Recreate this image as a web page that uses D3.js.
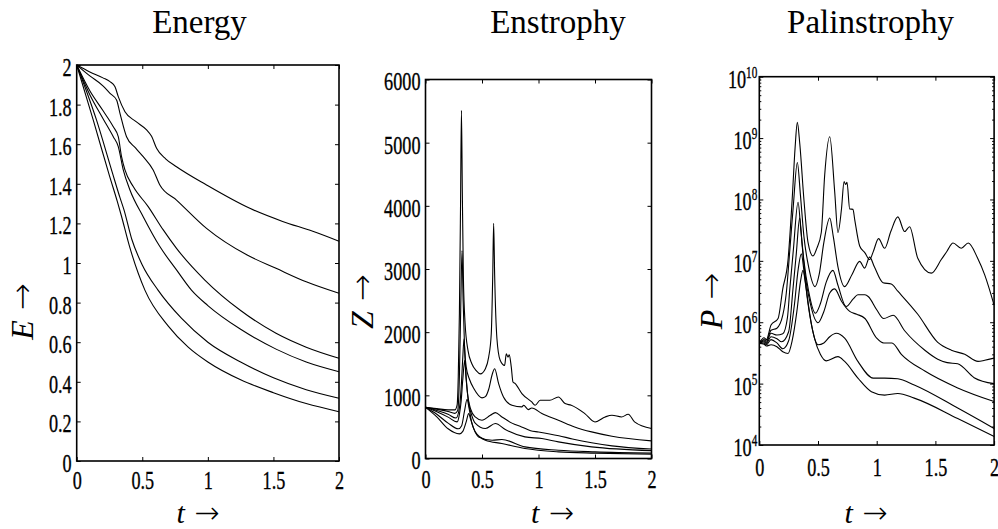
<!DOCTYPE html>
<meta charset="utf-8">
<script src="https://d3js.org/d3.v7.min.js"></script>
<style>
  body { margin: 0; background: #fff; }
  text { font-family: "Liberation Serif", "Times New Roman", serif; fill: #000; }
  .arrow { font-family: "DejaVu Sans", sans-serif; font-weight: 200; }
</style>
<div id="chart"></div>
<script>

// ---- data: [t, value] pairs ----
var timeTicks = [0, 0.5, 1, 1.5, 2];
var energyTicks = [0, 0.2, 0.4, 0.6, 0.8, 1, 1.2, 1.4, 1.6, 1.8, 2];
var enstrophyTicks = [0, 1000, 2000, 3000, 4000, 5000, 6000];
var palinTicks = [1e4, 1e5, 1e6, 1e7, 1e8, 1e9, 1e10];

var energyCurves = [
  [[0,2],[0.1,1.965],[0.2,1.935],[0.254,1.916],[0.292,1.89],[0.317,1.84],[0.368,1.764],[0.45,1.715],[0.533,1.672],[0.571,1.64],[0.609,1.579],[0.68,1.525],[0.761,1.486],[0.99,1.394],[1.32,1.276],[1.57,1.21],[1.8,1.16],[2,1.11]],
  [[0,2],[0.1,1.945],[0.2,1.895],[0.254,1.857],[0.304,1.823],[0.33,1.756],[0.38,1.638],[0.45,1.58],[0.507,1.537],[0.583,1.47],[0.634,1.394],[0.761,1.318],[0.99,1.175],[1.3,1.04],[1.52,0.973],[1.75,0.905],[2,0.847]],
  [[0,2],[0.1,1.87],[0.2,1.77],[0.279,1.688],[0.317,1.638],[0.342,1.537],[0.368,1.47],[0.431,1.386],[0.545,1.285],[0.66,1.167],[0.761,1.074],[0.977,0.914],[1.25,0.76],[1.52,0.645],[1.75,0.575],[2,0.519]],
  [[0,2],[0.1,1.85],[0.2,1.73],[0.279,1.638],[0.317,1.588],[0.355,1.47],[0.406,1.369],[0.507,1.234],[0.634,1.083],[0.761,0.965],[0.875,0.863],[1,0.785],[1.25,0.665],[1.52,0.565],[1.75,0.5],[2,0.451]],
  [[0,2],[0.152,1.72],[0.27,1.46],[0.33,1.33],[0.36,1.27],[0.42,1.12],[0.5,0.99],[0.62,0.863],[0.8,0.72],[1,0.6],[1.25,0.5],[1.5,0.42],[1.75,0.36],[2,0.317]],
  [[0,2],[0.127,1.72],[0.25,1.44],[0.31,1.31],[0.34,1.24],[0.4,1.09],[0.52,0.863],[0.7,0.68],[0.85,0.575],[1,0.5],[1.25,0.41],[1.5,0.345],[1.75,0.29],[2,0.249]]
];

var enstrophyCurves = [
  [[0,810],[0.1,790],[0.2,770],[0.26,770],[0.28,850],[0.29,1300],[0.3,2300],[0.31,4000],[0.318,5510],[0.326,4200],[0.335,2900],[0.35,2150],[0.376,1711],[0.41,1500],[0.45,1390],[0.485,1340],[0.53,1422],[0.559,1606],[0.582,1975],[0.595,2900],[0.603,3722],[0.612,2900],[0.632,1900],[0.66,1560],[0.7,1474],[0.715,1658],[0.73,1605],[0.741,1640],[0.759,1450],[0.774,1211],[0.794,1185],[0.853,1027],[0.94,895],[0.97,843],[1.015,921],[1.1,921],[1.176,974],[1.235,869],[1.29,843],[1.41,711],[1.5,579],[1.59,658],[1.65,685],[1.735,658],[1.794,700],[1.85,579],[2,474]],
  [[0,810],[0.1,780],[0.2,745],[0.26,715],[0.285,760],[0.3,1300],[0.312,2400],[0.323,3290],[0.333,2500],[0.345,1800],[0.36,1450],[0.39,1250],[0.43,1100],[0.5,960],[0.53,980],[0.56,1100],[0.59,1330],[0.612,1422],[0.647,1185],[0.69,974],[0.765,843],[0.853,817],[0.868,843],[0.91,774],[0.94,800],[1.03,711],[1.176,606],[1.32,500],[1.47,421],[1.65,353],[2,279]],
  [[0,810],[0.1,760],[0.2,700],[0.27,640],[0.3,800],[0.315,1100],[0.33,1600],[0.341,1896],[0.352,1500],[0.368,1100],[0.4,780],[0.44,658],[0.5,606],[0.574,685],[0.618,727],[0.676,658],[0.765,560],[0.85,500],[0.93,440],[1,420],[1.18,360],[1.3,310],[1.47,250],[1.65,200],[2,150]],
  [[0,810],[0.1,740],[0.2,655],[0.28,580],[0.3,700],[0.315,900],[0.33,1250],[0.347,1553],[0.36,1250],[0.38,900],[0.41,680],[0.44,560],[0.53,474],[0.618,553],[0.706,458],[0.88,342],[1.03,316],[1.176,263],[1.47,184],[2,125]],
  [[0,810],[0.1,700],[0.2,560],[0.29,470],[0.32,520],[0.345,750],[0.368,937],[0.385,800],[0.41,560],[0.44,420],[0.47,342],[0.59,290],[0.676,300],[0.88,184],[1.176,131],[1.5,105],[2,85]],
  [[0,810],[0.1,660],[0.2,470],[0.3,390],[0.33,430],[0.36,580],[0.382,711],[0.4,620],[0.44,421],[0.53,290],[0.676,237],[0.88,158],[1.176,105],[1.5,85],[2,68]]
];

var palinCurves = [
  [[0,4.6e5],[0.04,5.6e5],[0.06,5.2e5],[0.1,9e5],[0.16,1.15e6],[0.2,3.5e6],[0.244,1e7],[0.28,1e8],[0.305,7e8],[0.324,1.8e9],[0.345,8e8],[0.38,1e8],[0.415,2e7],[0.457,1.2e7],[0.49,1.6e7],[0.528,2.9e7],[0.557,2.5e8],[0.6,1.05e9],[0.642,1.35e8],[0.67,2.9e7],[0.7,7e7],[0.722,1.95e8],[0.735,1.75e8],[0.747,1.9e8],[0.77,7e7],[0.798,6.9e7],[0.812,4.8e7],[0.855,1.75e7],[0.9,1.35e7],[0.94,1.05e7],[0.97,1.4e7],[1.016,2.3e7],[1.068,1.6e7],[1.12,3e7],[1.18,5.2e7],[1.238,3e7],[1.28,3.6e7],[1.35,1.1e7],[1.465,6.3e6],[1.55,1.05e7],[1.6,1.45e7],[1.65,1.95e7],[1.72,1.6e7],[1.78,1.95e7],[1.86,1.1e7],[1.92,5.9e6],[2,1.9e6]],
  [[0,4.5e5],[0.04,5.2e5],[0.06,4.9e5],[0.1,7.4e5],[0.15,8e5],[0.2,1.3e6],[0.23,3e6],[0.26,1.5e7],[0.29,8e7],[0.324,4e8],[0.35,1.2e8],[0.38,2.5e7],[0.42,8e6],[0.475,3.8e6],[0.51,6e6],[0.55,2e7],[0.6,5e7],[0.63,2.5e7],[0.67,8e6],[0.727,3.8e6],[0.79,6e6],[0.855,9.8e6],[0.897,7.6e6],[0.94,1.15e7],[0.98,8e6],[1.054,4.4e6],[1.124,4.2e6],[1.18,3.2e6],[1.35,1.35e6],[1.52,4.7e5],[1.636,3.5e5],[1.75,3e5],[1.863,2.3e5],[1.92,2.4e5],[2,2.6e5]],
  [[0,4.5e5],[0.04,5e5],[0.06,4.7e5],[0.1,6.6e5],[0.15,6.2e5],[0.2,6.5e5],[0.24,1.2e6],[0.26,3.5e6],[0.29,1.5e7],[0.33,9e7],[0.355,3e7],[0.38,1e7],[0.42,3.2e6],[0.478,1.4e6],[0.52,2e6],[0.57,4.5e6],[0.627,7e6],[0.67,4e6],[0.74,1.8e6],[0.8,2.4e6],[0.84,2.8e6],[0.9,2.8e6],[0.93,2.6e6],[1,1.6e6],[1.06,1.15e6],[1.14,1.3e6],[1.24,7.2e5],[1.41,3.5e5],[1.52,2.5e5],[1.6,2.2e5],[1.69,2.1e5],[1.83,1.25e5],[2,1e5]],
  [[0,4.5e5],[0.04,4.8e5],[0.06,4.5e5],[0.1,5.8e5],[0.15,5.4e5],[0.19,4.8e5],[0.25,7e5],[0.287,3.5e6],[0.315,1.3e7],[0.344,5e7],[0.365,1.8e7],[0.39,6e6],[0.43,2.2e6],[0.5,9.8e5],[0.55,1.5e6],[0.6,3e6],[0.642,3.5e6],[0.7,2.2e6],[0.77,1.5e6],[0.83,1.35e6],[0.9,1.15e6],[1,5.5e5],[1.06,4.6e5],[1.13,4.6e5],[1.21,3e5],[1.41,1.6e5],[1.69,8.5e4],[2,5.1e4]],
  [[0,4.5e5],[0.04,4.6e5],[0.06,4.3e5],[0.1,5.2e5],[0.15,4.6e5],[0.2,3.7e5],[0.25,5e5],[0.3,2e6],[0.33,7e6],[0.358,1.3e7],[0.38,7e6],[0.41,2.5e6],[0.45,8e5],[0.5,4.3e5],[0.55,4.6e5],[0.6,5.8e5],[0.656,6.6e5],[0.727,5.5e5],[0.84,2.3e5],[0.97,1.23e5],[1.068,1.23e5],[1.18,1.2e5],[1.32,9.5e4],[1.69,4e4],[2,1.86e4]],
  [[0,4.5e5],[0.04,4.4e5],[0.06,4.1e5],[0.1,4.3e5],[0.15,4e5],[0.2,3.3e5],[0.245,3.1e5],[0.28,5e5],[0.32,1.5e6],[0.35,4.5e6],[0.372,7e6],[0.395,4e6],[0.415,2e6],[0.47,5.5e5],[0.52,3e5],[0.57,2.35e5],[0.67,2.75e5],[0.727,2.3e5],[0.84,1.23e5],[0.955,7.4e4],[1.068,6.5e4],[1.18,6.9e4],[1.32,5.8e4],[1.69,2.7e4],[2,1.38e4]]
];

// ---- layout ----
var svg = d3.select("#chart").append("svg")
    .attr("width", 998)
    .attr("height", 529);

var squeeze = 0.7;   // tick labels are narrow in the original

var panels = [
  { title: "Energy", titleX: 199.5, l: 76.7, r: 339, t: 65, b: 461,
    y: d3.scaleLinear().domain([0, 2]), ticks: energyTicks, curves: energyCurves,
    ylab: "E", ylabX: 33, ylabY: 311.5, tlabX: 198, xoff: 28, log: false },
  { title: "Enstrophy", titleX: 558, l: 425.5, r: 651.5, t: 79.5, b: 458.5,
    y: d3.scaleLinear().domain([0, 6000]), ticks: enstrophyTicks, curves: enstrophyCurves,
    ylab: "Z", ylabX: 373, ylabY: 301.5, tlabX: 552.5, xoff: 30, log: false },
  { title: "Palinstrophy", titleX: 870.5, l: 759.3, r: 994.1, t: 76.7, b: 445,
    y: d3.scaleLog().domain([1e4, 1e10]), ticks: palinTicks, curves: palinCurves,
    ylab: "P", ylabX: 722, ylabY: 301, tlabX: 866, xoff: 31, log: true }
];

panels.forEach(drawPanel);

function drawPanel(p) {
  var x = d3.scaleLinear().domain([0, 2]).range([p.l, p.r]);
  var y = p.y.range([p.b, p.t]);
  var g = svg.append("g");

  // curves
  var line = d3.line()
      .x(function(d) { return x(d[0]); })
      .y(function(d) { return y(d[1]); })
      .curve(d3.curveMonotoneX);

  g.selectAll("path.curve")
    .data(p.curves)
    .join("path")
      .attr("class", "curve")
      .attr("fill", "none")
      .attr("stroke", "#000")
      .attr("stroke-width", 1.1)
      .attr("d", line);

  // bottom axis with labels
  var xb = g.append("g")
      .attr("transform", "translate(0," + p.b + ")")
      .call(d3.axisBottom(x).tickValues(timeTicks).tickSize(-4).tickFormat(function(d) { return d; }));
  xb.selectAll("text")
      .attr("y", p.xoff).attr("dy", 0)
      .attr("font-size", 26)
      .attr("stroke", "#000").attr("stroke-width", 0.35)
      .attr("transform", "scale(" + squeeze + ",1)");

  // top and right mirror ticks
  g.append("g")
      .attr("transform", "translate(0," + p.t + ")")
      .call(d3.axisTop(x).tickValues(timeTicks).tickSize(-4).tickFormat(""));

  var yl = g.append("g")
      .attr("transform", "translate(" + p.l + ",0)")
      .call(d3.axisLeft(y).tickValues(p.ticks).tickSize(-4).tickFormat(p.log ? "" : function(d) { return d; }));
  g.append("g")
      .attr("transform", "translate(" + p.r + ",0)")
      .call(d3.axisRight(y).tickValues(p.ticks).tickSize(-4).tickFormat(""));

  if (p.log) {
    var minor = y.ticks().filter(function(v) { return p.ticks.indexOf(v) < 0; });
    g.append("g")
        .attr("transform", "translate(" + p.l + ",0)")
        .call(d3.axisLeft(y).tickValues(minor).tickSize(-2).tickFormat(""));
    g.append("g")
        .attr("transform", "translate(" + p.r + ",0)")
        .call(d3.axisRight(y).tickValues(minor).tickSize(-2).tickFormat(""));

    yl.selectAll(".tick text").each(function(d) {
      var t = d3.select(this)
          .attr("x", 0).attr("dy", "0.4em")
          .attr("font-size", 26)
          .attr("text-anchor", "end")
          .attr("stroke", "#000").attr("stroke-width", 0.35)
          .attr("transform", "translate(-2,0) scale(" + squeeze + ",1)");
      t.append("tspan").text("10");
      t.append("tspan").attr("font-size", 16).attr("dy", -10).text(Math.round(Math.log10(d)));
    });
  } else {
    yl.selectAll(".tick text")
        .attr("x", 0).attr("dy", "0.4em")
        .attr("font-size", 26)
        .attr("stroke", "#000").attr("stroke-width", 0.35)
        .attr("transform", "translate(-5,0) scale(" + squeeze + ",1)");
  }

  g.selectAll(".domain").remove();
  g.selectAll(".tick line").attr("stroke", "#000").attr("stroke-width", 1);

  // frame
  g.append("rect")
      .attr("x", p.l).attr("y", p.t)
      .attr("width", p.r - p.l).attr("height", p.b - p.t)
      .attr("fill", "none")
      .attr("stroke", "#000")
      .attr("stroke-width", 1.6);

  // title
  svg.append("text")
      .attr("x", p.titleX).attr("y", 33)
      .attr("text-anchor", "middle")
      .attr("font-size", 33)
      .attr("fill", "#111")
      .text(p.title);

  // x label "t ->"
  var tl = svg.append("text")
      .attr("x", p.tlabX).attr("y", 522.5)
      .attr("text-anchor", "middle")
      .attr("font-size", 30);
  tl.append("tspan").attr("font-style", "italic").text("t");
  tl.append("tspan").attr("class", "arrow").text(" \u2192");

  // y label rotated
  var yt = svg.append("text")
      .attr("transform", "translate(" + p.ylabX + "," + p.ylabY + ") rotate(-90)")
      .attr("text-anchor", "middle")
      .attr("font-size", 32);
  yt.append("tspan").attr("font-style", "italic").text(p.ylab);
  yt.append("tspan").attr("class", "arrow").text(" \u2192");
}

</script>
